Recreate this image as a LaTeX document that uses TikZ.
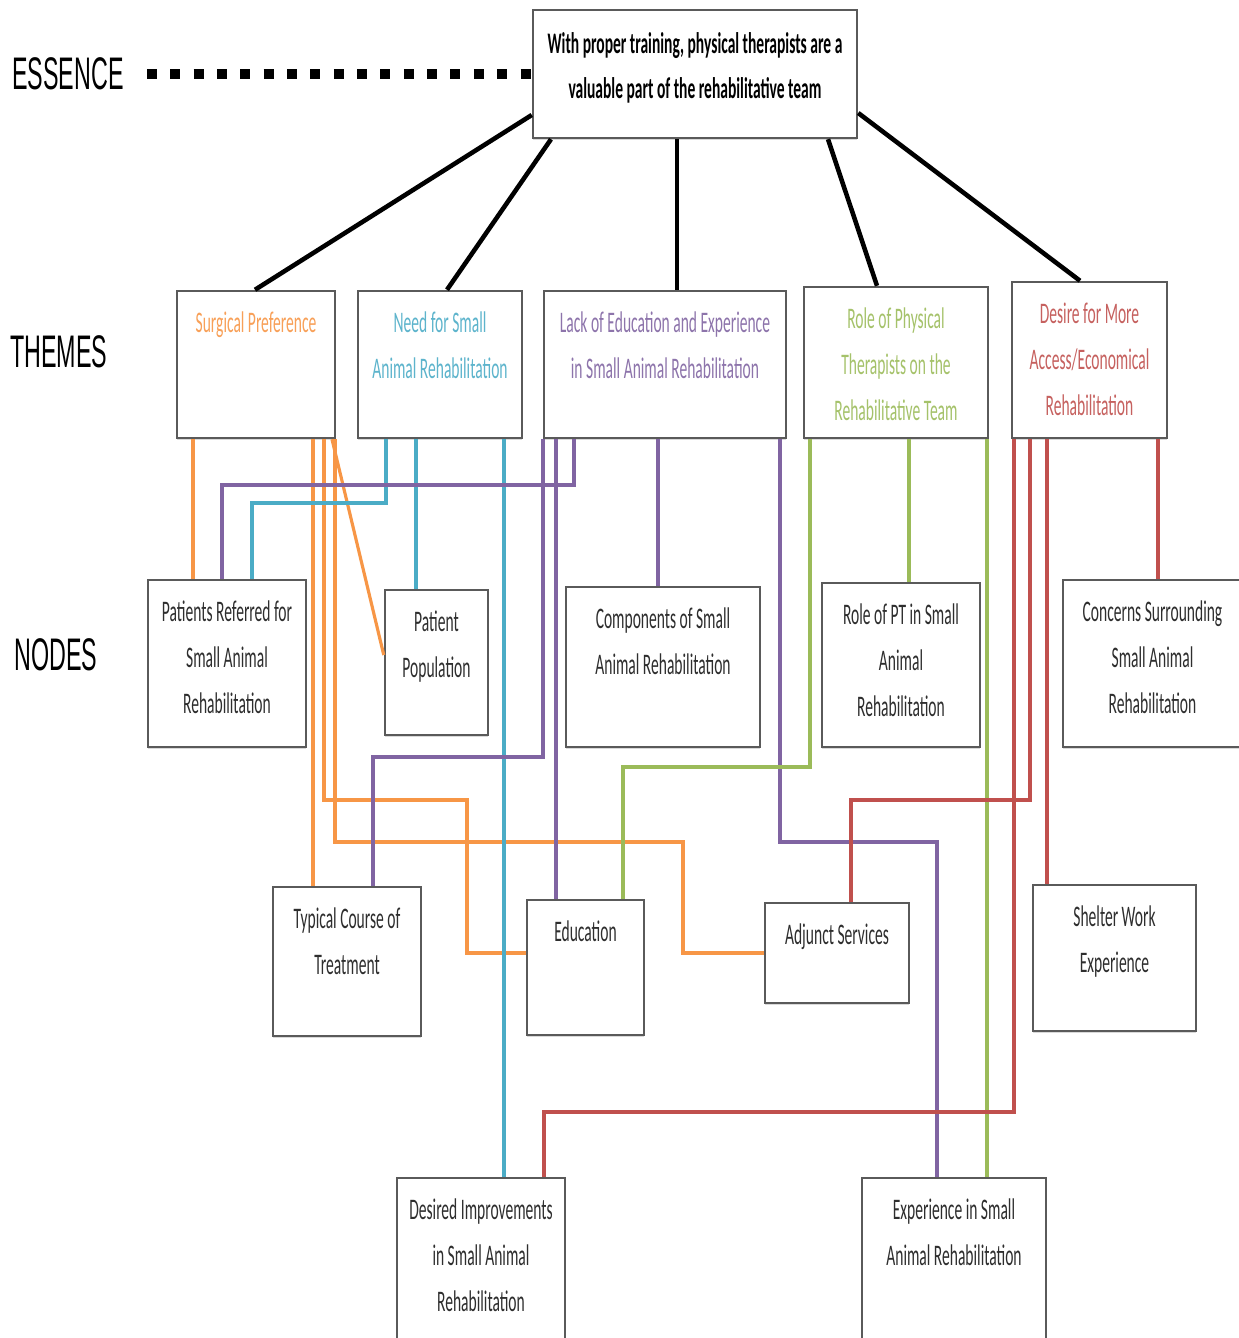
\documentclass[tikz,border=0pt]{standalone}
\usepackage{fontspec}
\setmainfont{Carlito}[FakeStretch=0.52]
\newfontfamily\lvlfont{Liberation Sans}[FakeStretch=0.51]
\usetikzlibrary{positioning, fit, shadows}
\definecolor{thOrange}{HTML}{F79646}
\definecolor{thTeal}{HTML}{4BACC6}
\definecolor{thPurple}{HTML}{8064A2}
\definecolor{thGreen}{HTML}{9BBB59}
\definecolor{thRed}{HTML}{C0504D}
\definecolor{bInk}{HTML}{5A5A5A}
\definecolor{tInk}{HTML}{2E2E2E}
\tikzset{
  nbox/.style={draw=bInk, line width=1.4pt, fill=white, inner sep=0pt,
    drop shadow={shadow xshift=0pt, shadow yshift=-0.04cm, opacity=0.3}},
  boxtext/.style={inner sep=0pt, align=center, text=tInk, font=\fontsize{17}{26}\selectfont},
  themetext/.style={boxtext, text=#1!90!white},
  lvl/.style={anchor=west, inner sep=0pt, font=\lvlfont\fontsize{26}{30}\selectfont},
  essline/.style={line width=2.6pt, black},
  essdots/.style={line width=0.2cm, black, dash pattern=on 0.2cm off 0.267cm},
  link/.style={line width=1.8pt, draw=#1},
}

\begin{document}
\begin{tikzpicture}[x=0.02cm, y=-0.02cm]
  \useasboundingbox (0,0) rectangle (1239,1338);
  % level labels
  \node[lvl] (esslbl) at (12,74) {ESSENCE};
  \node[lvl] (themelbl) at (10,352) {THEMES};
  \node[lvl] (nodelbl) at (14,655) {NODES};
  % essence
  \node[nbox, fit={(533,10) (857,138)}] (ess) {};
  \node[boxtext, text=black, font=\bfseries\fontsize{17}{26}\selectfont, below=0.46cm of ess.north] (ess-t)
    {With proper training, physical therapists are a\\valuable part of the rehabilitative team};
  % themes
  \node[nbox, fit={(177,291) (335,438)}] (surg) {};
  \node[themetext=thOrange, below=0.44cm of surg.north] (surg-t) {Surgical Preference};
  \node[nbox, fit={(358,291) (522,438)}] (need) {};
  \node[themetext=thTeal, below=0.44cm of need.north] (need-t) {Need for Small\\Animal Rehabilitation};
  \node[nbox, fit={(544,291) (786,438)}] (lack) {};
  \node[themetext=thPurple, below=0.44cm of lack.north] (lack-t) {Lack of Education and Experience\\in Small Animal Rehabilitation};
  \node[nbox, fit={(804,287) (988,438)}] (role) {};
  \node[themetext=thGreen, below=0.44cm of role.north] (role-t) {Role of Physical\\Therapists on the\\Rehabilitative Team};
  \node[nbox, fit={(1012,282) (1167,438)}] (desire) {};
  \node[themetext=thRed, below=0.44cm of desire.north] (desire-t) {Desire for More\\Access/Economical\\Rehabilitation};
  % nodes
  \node[nbox, fit={(148,580) (306,747)}] (ptref) {};
  \node[boxtext, below=0.44cm of ptref.north] (ptref-t) {Patients Referred for\\Small Animal\\Rehabilitation};
  \node[nbox, fit={(385,590) (488,735)}] (ppop) {};
  \node[boxtext, below=0.44cm of ppop.north] (ppop-t) {Patient\\Population};
  \node[nbox, fit={(566,587) (760,747)}] (comp) {};
  \node[boxtext, below=0.44cm of comp.north] (comp-t) {Components of Small\\Animal Rehabilitation};
  \node[nbox, fit={(822,583) (980,747)}] (ptrole) {};
  \node[boxtext, below=0.44cm of ptrole.north] (ptrole-t) {Role of PT in Small\\Animal\\Rehabilitation};
  \node[nbox, fit={(1063,580) (1242,747)}] (concern) {};
  \node[boxtext, below=0.44cm of concern.north] (concern-t) {Concerns Surrounding\\Small Animal\\Rehabilitation};
  \node[nbox, fit={(273,887) (421,1036)}] (tcourse) {};
  \node[boxtext, below=0.44cm of tcourse.north] (tcourse-t) {Typical Course of\\Treatment};
  \node[nbox, fit={(527,900) (644,1035)}] (edu) {};
  \node[boxtext, below=0.44cm of edu.north] (edu-t) {Education};
  \node[nbox, fit={(765,903) (909,1003)}] (adj) {};
  \node[boxtext, below=0.44cm of adj.north] (adj-t) {Adjunct Services};
  \node[nbox, fit={(1033,885) (1196,1031)}] (shelter) {};
  \node[boxtext, below=0.44cm of shelter.north] (shelter-t) {Shelter Work\\Experience};
  \node[nbox, fit={(397,1178) (565,1346)}] (desimp) {};
  \node[boxtext, below=0.44cm of desimp.north] (desimp-t) {Desired Improvements\\in Small Animal\\Rehabilitation};
  \node[nbox, fit={(862,1178) (1046,1346)}] (expr) {};
  \node[boxtext, below=0.44cm of expr.north] (expr-t) {Experience in Small\\Animal Rehabilitation};

  % essence to themes
  \coordinate (dotstart) at (147,74);
  \draw[essdots] (dotstart) -- (ess.west);
  \draw[essline] (ess.west |- 0,115) -- (surg.north -| 255,0);
  \draw[essline] (ess.south -| 551,0) -- (need.north -| 447,0);
  \draw[essline] (ess.south -| 677,0) -- (lack.north -| 677,0);
  \draw[essline] (ess.south -| 828,0) -- (role.north -| 877,0);
  \draw[essline] (ess.east |- 0,113) -- (desire.north -| 1080,0);

  % surgical preference
  \draw[link=thOrange] (surg.south -| 193,0) -- (ptref.north -| 193,0);
  \draw[link=thOrange] (surg.south -| 313,0) -- (tcourse.north -| 313,0);
  \draw[link=thOrange] (surg.south -| 324,0) |- (467,800) |- (edu.west |- 0,953);
  \draw[link=thOrange] (surg.south -| 335,0) |- (683,842) |- (adj.west |- 0,953);
  \draw[link=thOrange] (surg.south -| 332,0) -- (ppop.west |- 0,655);
  % need for small animal rehabilitation
  \draw[link=thTeal] (need.south -| 386,0) |- (252,503) -- (ptref.north -| 252,0);
  \draw[link=thTeal] (need.south -| 416,0) -- (ppop.north -| 416,0);
  \draw[link=thTeal] (need.south -| 504,0) -- (desimp.north -| 504,0);
  % lack of education and experience
  \draw[link=thPurple] (lack.south -| 574,0) |- (222,485) -- (ptref.north -| 222,0);
  \draw[link=thPurple] (lack.south -| 543,0) |- (373,757) -- (tcourse.north -| 373,0);
  \draw[link=thPurple] (lack.south -| 556,0) -- (edu.north -| 556,0);
  \draw[link=thPurple] (lack.south -| 658,0) -- (comp.north -| 658,0);
  \draw[link=thPurple] (lack.south -| 780,0) |- (937,842) -- (expr.north -| 937,0);
  % role of physical therapists
  \draw[link=thGreen] (role.south -| 810,0) |- (623,767) -- (edu.north -| 623,0);
  \draw[link=thGreen] (role.south -| 909,0) -- (ptrole.north -| 909,0);
  \draw[link=thGreen] (role.south -| 987,0) -- (expr.north -| 987,0);
  % desire for more access
  \draw[link=thRed] (desire.south -| 1014,0) |- (544,1112) -- (desimp.north -| 544,0);
  \draw[link=thRed] (desire.south -| 1030,0) |- (851,800) -- (adj.north -| 851,0);
  \draw[link=thRed] (desire.south -| 1047,0) -- (shelter.north -| 1047,0);
  \draw[link=thRed] (desire.south -| 1158,0) -- (concern.north -| 1158,0);
\end{tikzpicture}
\end{document}
